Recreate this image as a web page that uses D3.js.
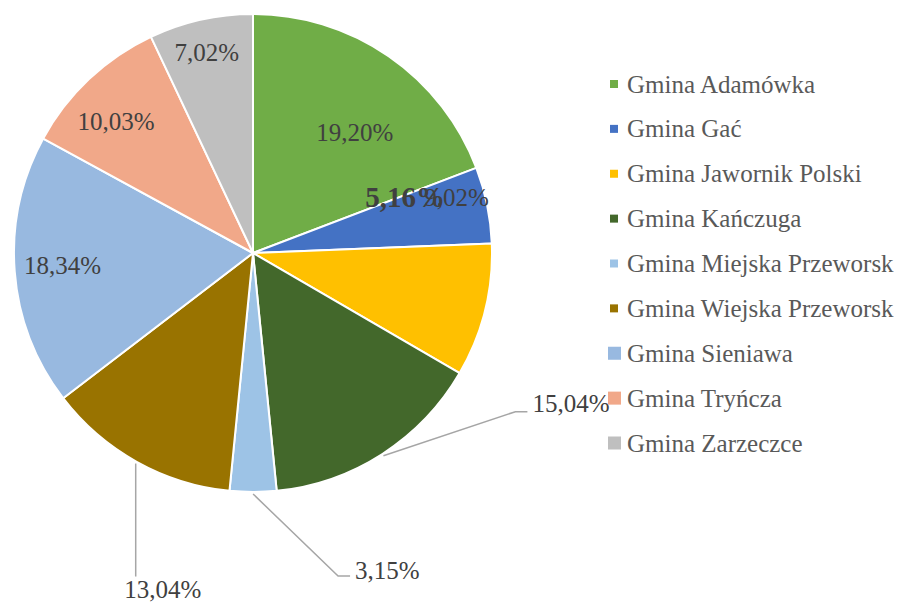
<!DOCTYPE html>
<html>
<head>
<meta charset="utf-8">
<script src="https://cdn.jsdelivr.net/npm/d3@7"></script>
<style>
  body { margin: 0; background: #fff; }
  svg text { font-family: 'Liberation Serif', serif; }
</style>
</head>
<body>
<div id="chart"></div>
<script>
// data
var names = ['Gmina Adamówka', 'Gmina Gać', 'Gmina Jawornik Polski', 'Gmina Kańczuga',
  'Gmina Miejska Przeworsk', 'Gmina Wiejska Przeworsk', 'Gmina Sieniawa',
  'Gmina Tryńcza', 'Gmina Zarzeczce']
var shares = [19.20, 5.16, 9.02, 15.04, 3.15, 13.04, 18.34, 10.03, 7.02]
var colors = ['#70ad47', '#4472c4', '#ffc000', '#43682b', '#9dc3e6',
  '#997300', '#98b9e0', '#f1a889', '#bfbfbf']

// layout
var width = 899,
    height = 603,
    cx = 253,
    cy = 253,
    radius = 239

// label placement: inside labels as (angle shift in deg, radius),
// outside labels as leader elbow relative to slice edge
var labelPlace = [
  { da: 5.5, r: 158 },
  { da: -8.6, r: 162, bold: true },
  { da: -29.3, r: 211 },
  { out: [132, -44], tail: 12, anchor: 'start', tx: 17, ty: -8 },
  { out: [85, 82], tail: 12, anchor: 'start', tx: 17, ty: -6 },
  { out: [0, 113], tail: 0, anchor: 'middle', tx: 27, ty: 13 },
  { da: 0.5, r: 191 },
  { da: -2.8, r: 190 },
  { da: -0.3, r: 206 }
]

var fmt = function(v) { return d3.format('.2f')(v).replace('.', ',') + '%' }

var svg = d3.select('#chart')
  .append('svg')
    .attr('width', width)
    .attr('height', height)

var pie = d3.pie().sort(null).value(function(d) { return d })
var arcs = pie(shares)

var arc = d3.arc()
  .innerRadius(0)
  .outerRadius(radius)

var g = svg.append('g')
  .attr('transform', 'translate(' + cx + ',' + cy + ')')

g.selectAll('path')
  .data(arcs).enter()
  .append('path')
    .attr('d', arc)
    .attr('fill', function(d, i) { return colors[i] })
    .attr('stroke', '#fff')
    .attr('stroke-width', 2)
    .attr('stroke-linejoin', 'round')

function polar(angle, r) {
  return [Math.sin(angle) * r, -Math.cos(angle) * r]
}

// labels
arcs.forEach(function(d, i) {
  var p = labelPlace[i],
      mid = (d.startAngle + d.endAngle) / 2
  if (p.out) {
    var s = polar(mid, radius + 2),
        e = [s[0] + p.out[0], s[1] + p.out[1]],
        t = [e[0] + p.tail, e[1]]
    g.append('polyline')
      .attr('points', [s, e, t].map(function(q) { return q.join(',') }).join(' '))
      .attr('fill', 'none')
      .attr('stroke', '#a6a6a6')
      .attr('stroke-width', 1.5)
    g.append('text')
      .attr('x', e[0] + p.tx)
      .attr('y', e[1] + p.ty)
      .attr('text-anchor', p.anchor)
      .attr('dominant-baseline', 'central')
      .attr('font-size', 25)
      .attr('fill', '#404040')
      .text(fmt(d.data))
  }
})

arcs.forEach(function(d, i) {
  var p = labelPlace[i],
      mid = (d.startAngle + d.endAngle) / 2
  if (p.out) return
  var c = polar(mid + p.da * Math.PI / 180, p.r)
  g.append('text')
    .attr('x', c[0])
    .attr('y', c[1])
    .attr('text-anchor', 'middle')
    .attr('dominant-baseline', 'central')
    .attr('font-size', p.bold ? 29 : 25)
    .attr('font-weight', p.bold ? 'bold' : 'normal')
    .attr('fill', '#404040')
    .text(fmt(d.data))
})

// draw the bold label on top of its neighbour
g.selectAll('text').filter(function() { return d3.select(this).attr('font-weight') === 'bold' }).raise()

// legend
var legendY = d3.scalePoint()
  .domain(names)
  .range([84, 443])

var legend = svg.selectAll('.legend')
  .data(names).enter()
  .append('g')
    .attr('class', 'legend')
    .attr('transform', function(d) { return 'translate(0,' + legendY(d) + ')' })

legend.append('rect')
  .attr('x', function(d, i) { return i < 6 ? 610 : 608 })
  .attr('y', function(d, i) { return i < 6 ? -4 : -6.5 })
  .attr('width', function(d, i) { return i < 6 ? 8 : 13 })
  .attr('height', function(d, i) { return i < 6 ? 8 : 13 })
  .attr('fill', function(d, i) { return colors[i] })

legend.append('text')
  .attr('x', 627)
  .attr('y', 0)
  .attr('dominant-baseline', 'central')
  .attr('font-size', 25)
  .attr('fill', '#595959')
  .text(function(d) { return d })
</script>
</body>
</html>
